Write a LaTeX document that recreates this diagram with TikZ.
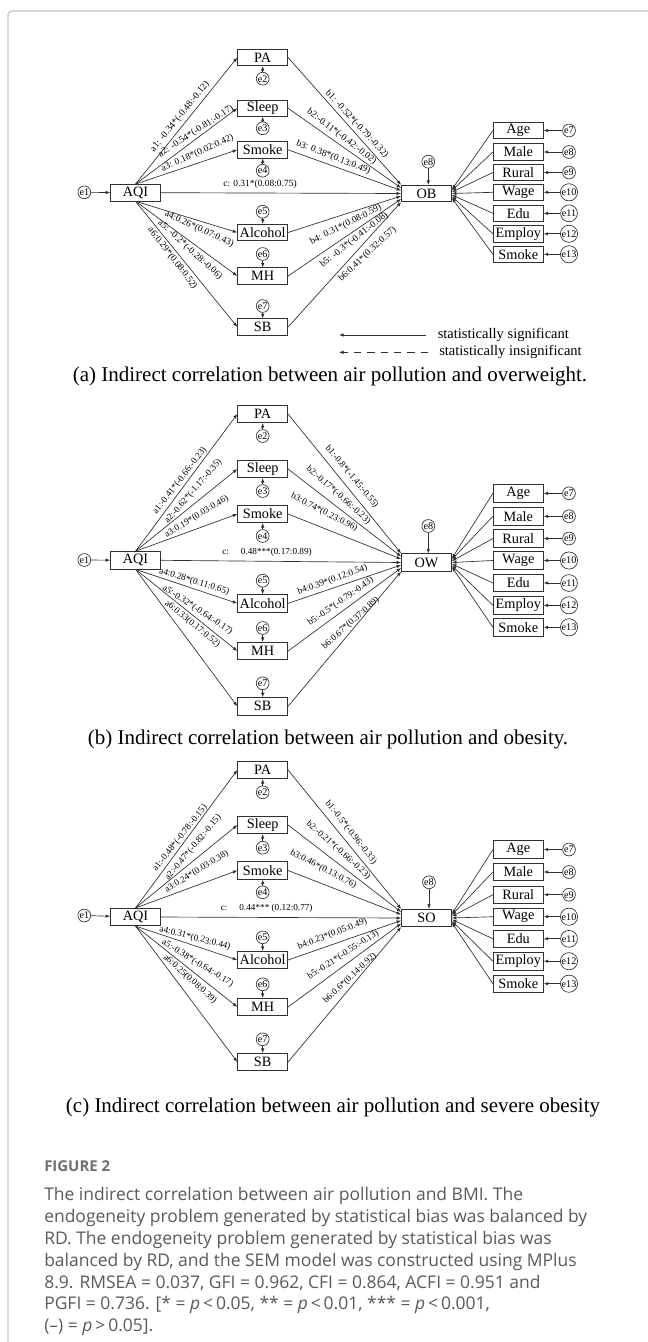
\documentclass[tikz,border=0pt]{standalone}
\usepackage{fontspec}
\setmainfont{Liberation Serif}
\newfontfamily\capsans{Open Sans}
\usetikzlibrary{arrows.meta,calc}
\definecolor{linec}{HTML}{303030}
\definecolor{framec}{HTML}{C4C4C4}
\definecolor{captc}{HTML}{5A5A5A}
\definecolor{figc}{HTML}{707070}
\begin{document}
\begin{tikzpicture}[x=0.75pt,y=-0.75pt,
  >={Latex[length=3.4pt,width=2.6pt]},
  box/.style={draw=linec, line width=0.55pt, minimum width=37.5pt, minimum height=12.3pt, inner sep=0pt, font=\fontsize{10.7pt}{12pt}\selectfont},
  boxb/.style={box, minimum height=13pt},
  err/.style={circle, draw=linec, line width=0.5pt, inner sep=0.3pt, minimum size=9.6pt, font=\fontsize{7.6pt}{8pt}\selectfont},
  link/.style={draw=linec, line width=0.5pt, ->},
  lab/.style={font=\fontsize{7.1pt}{8pt}\selectfont, inner sep=0pt},
  labb/.style={font=\fontsize{6.9pt}{8pt}\selectfont, inner sep=0pt},
  legtext/.style={font=\fontsize{10.9pt}{12pt}\selectfont, inner sep=0pt, anchor=west},
  capt/.style={font=\fontsize{15.75pt}{18pt}\selectfont, inner sep=0pt}]
\useasboundingbox (0,0) rectangle (648,1342);
\fill[white] (0,0) rectangle (648,1342);
\draw[framec, line width=0.9pt, rounded corners=3pt] (8,1345) -- (8,11) -- (652,11);

%================ panel (a) ================
\node[box] (aqiA) at (135.5,192.7) {AQI};
\node[err] (e1A) at (84.3,192.3) {e1};
\node[box] (paA) at (262.7,57.5) {PA};
\node[err] (e2A) at (262.7,78.7) {e2};
\node[box] (slA) at (262.7,108.2) {Sleep};
\node[err] (e3A) at (262.7,128.3) {e3};
\node[box] (smA) at (262.7,149.8) {Smoke};
\node[err] (e4A) at (262.7,170.7) {e4};
\node[box] (alA) at (262.7,232.5) {Alcohol};
\node[err] (e5A) at (262.7,211.7) {e5};
\node[box] (mhA) at (262.7,276) {MH};
\node[err] (e6A) at (262.7,254) {e6};
\node[box] (sbA) at (262.7,327) {SB};
\node[err] (e7A) at (262.7,306) {e7};
\node[box] (obA) at (426.5,193.5) {OB};
\node[err] (e8A) at (428.3,161.7) {e8};
\draw[link] (e1A) -- (aqiA);
\draw[link] (e2A) -- (paA);
\draw[link] (e3A) -- (slA);
\draw[link] (e4A) -- (smA);
\draw[link] (e5A) -- (alA);
\draw[link] (e6A) -- (mhA);
\draw[link] (e7A) -- (sbA);
\draw[link] (e8A) -- (obA.north -| e8A);
\draw[link] (aqiA.north) -- (paA.west);
\draw[link] (aqiA.north) -- (slA.west);
\draw[link] (aqiA.north) -- (smA.west);
\draw[link] (aqiA.south) -- (alA.west);
\draw[link] (aqiA.south) -- (mhA.west);
\draw[link] (aqiA.south) -- (sbA.west);
\draw[link] (aqiA.east) -- (obA.west);
\draw[link] (paA.east) -- (obA.north west);
\draw[link] (slA.east) -- ($(obA.west)+(0,-5.5)$);
\draw[link] (smA.east) -- ($(obA.west)+(0,-3)$);
\draw[link] (alA.east) -- ($(obA.west)+(0,2.5)$);
\draw[link] (mhA.east) -- ($(obA.west)+(0,5.5)$);
\draw[link] (sbA.east) -- (obA.south west);
\node[lab, rotate=51] (la1A) at (180,116.7) {a1: -0.34*(-0.48:-0.12)};
\node[lab, rotate=33] (la2A) at (196,131.5) {a2: -0.54*(-0.81:-0.17)};
\node[lab, rotate=24] (la3A) at (197.5,153.3) {a3: 0.18*(0.02:0.42)};
\node[lab, rotate=-25] (la4A) at (199.2,229.2) {a4:0.26*(0.07:0.43)};
\node[lab, rotate=-42] (la5A) at (190,250) {a5: -0.2*(-0.28:-0.06)};
\node[lab, rotate=-52.5] (la6A) at (172.5,258.3) {a6:0.29*(0.08:0.52)};
\node[lab] (lcA) at (260,184.5) {c: 0.31*(0.08:0.75)};
\node[lab, rotate=-47.3] (lb1A) at (356.7,124.2) {b1: -0.52*(-0.79:-0.32)};
\node[lab, rotate=-37.3] (lb2A) at (341.7,136.7) {b2:-0.11*(-0.42:-0.02)};
\node[lab, rotate=-21.2] (lb3A) at (333.3,157.5) {b3: 0.38*(0.13:0.49)};
\node[lab, rotate=27] (lb4A) at (345.8,225) {b4: 0.31*(0.08:0.59)};
\node[lab, rotate=38] (lb5A) at (354.2,240) {b5: -0.3*(-0.41:-0.08)};
\node[lab, rotate=43.3] (lb6A) at (367.5,254.2) {b6:0.41*(0.32:0.57)};
\foreach \t/\y/\e/\o [count=\i] in {Age/130.5/7/-4,Male/152/8/-3,Rural/172.5/9/-1.5,Wage/192.3/10/0,Edu/213.3/11/1.5,Employ/233.8/12/3,Smoke/254.3/13/4.5}{
  \node[box] (rA\i) at (518.3,\y) {\t};
  \node[err] (reA\i) at (569,\y) {e\e};
  \draw[link] (reA\i) -- (rA\i.east);
  \draw[link] (rA\i.west) -- ($(obA.east)+(0,\o)$);
}
\coordinate (lg1s) at (426,335);
\coordinate (lg1e) at (339,335);
\coordinate (lg2s) at (428,352.3);
\coordinate (lg2e) at (339,352.3);
\draw[link] (lg1s) -- (lg1e);
\draw[link, dash pattern=on 5.5pt off 4.5pt] (lg2s) -- (lg2e);
\node[legtext] (lgt1) at (437.5,335) {statistically significant};
\node[legtext] (lgt2) at (439,352.3) {statistically insignificant};
\node[capt] (capA) at (330,376) {(a) Indirect correlation between air pollution and overweight.};

%================ panel (b) ================
\node[boxb] (aqiB) at (135.5,560.3) {AQI};
\node[err] (e1B) at (84.3,560) {e1};
\node[boxb] (paB) at (262.7,414) {PA};
\node[err] (e2B) at (262.7,436) {e2};
\node[boxb] (slB) at (262.7,469) {Sleep};
\node[err] (e3B) at (262.7,491) {e3};
\node[boxb] (smB) at (262.7,514) {Smoke};
\node[err] (e4B) at (262.7,536) {e4};
\node[boxb] (alB) at (262.7,603.3) {Alcohol};
\node[err] (e5B) at (262.7,580.7) {e5};
\node[boxb] (mhB) at (262.7,651) {MH};
\node[err] (e6B) at (262.7,628) {e6};
\node[boxb] (sbB) at (262.7,706.3) {SB};
\node[err] (e7B) at (262.7,683.3) {e7};
\node[boxb] (owB) at (426.5,562.5) {OW};
\node[err] (e8B) at (428.3,526) {e8};
\draw[link] (e1B) -- (aqiB);
\draw[link] (e2B) -- (paB);
\draw[link] (e3B) -- (slB);
\draw[link] (e4B) -- (smB);
\draw[link] (e5B) -- (alB);
\draw[link] (e6B) -- (mhB);
\draw[link] (e7B) -- (sbB);
\draw[link] (e8B) -- (owB.north -| e8B);
\draw[link] (aqiB.north) -- (paB.west);
\draw[link] (aqiB.north) -- (slB.west);
\draw[link] (aqiB.north) -- (smB.west);
\draw[link] (aqiB.south) -- (alB.west);
\draw[link] (aqiB.south) -- (mhB.west);
\draw[link] (aqiB.south) -- (sbB.west);
\draw[link] (aqiB.east) -- (owB.west);
\draw[link] (paB.east) -- (owB.north west);
\draw[link] (slB.east) -- ($(owB.west)+(0,-6)$);
\draw[link] (smB.east) -- ($(owB.west)+(0,-3.5)$);
\draw[link] (alB.east) -- ($(owB.west)+(0,2.5)$);
\draw[link] (mhB.east) -- ($(owB.west)+(0,5.5)$);
\draw[link] (sbB.east) -- (owB.south west);
\node[labb, rotate=52.4] (la1B) at (180,480.8) {a1:-0.41*(-0.66:-0.23)};
\node[labb, rotate=49.2] (la2B) at (193.3,491.5) {a2:-0.62*(-1.17:-0.35)};
\node[labb, rotate=31.4] (la3B) at (196.7,516.7) {a3:0.19*(0.03:0.46)};
\node[labb] (lcB) at (267,552.2) {c:\hspace{1.3em}0.48***(0.17:0.89)};
\node[labb, rotate=-17.1] (la4B) at (194.2,581.7) {a4:0.28*(0.11:0.65)};
\node[labb, rotate=-33.7] (la5B) at (197.5,610) {a5:-0.32*(-0.64:-0.17)};
\node[labb, rotate=-39.3] (la6B) at (192.5,624.2) {a6:0.33(0.17:0.52)};
\node[labb, rotate=-50.2] (lb1B) at (351.7,476.7) {b1:-0.8*(-1.45:-0.55)};
\node[labb, rotate=-41.7] (lb2B) at (338.3,495) {b2:-0.17*(-0.66:-0.23)};
\node[labb, rotate=-27.1] (lb3B) at (324.2,512.5) {b3:0.74*(0.23:0.96)};
\node[labb, rotate=19.8] (lb4B) at (332.5,580) {b4:0.39*(0.12:0.54)};
\node[labb, rotate=35.1] (lb5B) at (340.8,601.7) {b5:-0.5*(-0.79:-0.43)};
\node[labb, rotate=42.1] (lb6B) at (350.8,623.3) {b6:0.67*(0.37:0.89)};
\foreach \t/\y/\e/\o [count=\i] in {Age/493.3/7/-4,Male/516.3/8/-3,Rural/538.5/9/-1.5,Wage/560.5/10/0,Edu/583/11/1.5,Employ/605.3/12/3,Smoke/627.3/13/4.5}{
  \node[boxb] (rB\i) at (518.3,\y) {\t};
  \node[err] (reB\i) at (569,\y) {e\e};
  \draw[link] (reB\i) -- (rB\i.east);
  \draw[link] (rB\i.west) -- ($(owB.east)+(0,\o)$);
}
\node[capt] (capB) at (328,739.5) {(b) Indirect correlation between air pollution and obesity.};

%================ panel (c) ================
\node[boxb] (aqiC) at (135.5,917) {AQI};
\node[err] (e1C) at (84.3,915.5) {e1};
\node[boxb] (paC) at (262.7,770) {PA};
\node[err] (e2C) at (262.7,792.3) {e2};
\node[boxb] (slC) at (262.7,825) {Sleep};
\node[err] (e3C) at (262.7,847.7) {e3};
\node[boxb] (smC) at (262.7,870.5) {Smoke};
\node[err] (e4C) at (262.7,892.3) {e4};
\node[boxb] (alC) at (262.7,960) {Alcohol};
\node[err] (e5C) at (262.7,937.3) {e5};
\node[boxb] (mhC) at (262.7,1007) {MH};
\node[err] (e6C) at (262.7,984.3) {e6};
\node[boxb] (sbC) at (262.7,1062) {SB};
\node[err] (e7C) at (262.7,1039.3) {e7};
\node[boxb] (soC) at (426.5,918) {SO};
\node[err] (e8C) at (429,882.3) {e8};
\draw[link] (e1C) -- (aqiC);
\draw[link] (e2C) -- (paC);
\draw[link] (e3C) -- (slC);
\draw[link] (e4C) -- (smC);
\draw[link] (e5C) -- (alC);
\draw[link] (e6C) -- (mhC);
\draw[link] (e7C) -- (sbC);
\draw[link] (e8C) -- (soC.north -| e8C);
\draw[link] (aqiC.north) -- (paC.west);
\draw[link] (aqiC.north) -- (slC.west);
\draw[link] (aqiC.north) -- (smC.west);
\draw[link] (aqiC.south) -- (alC.west);
\draw[link] (aqiC.south) -- (mhC.west);
\draw[link] (aqiC.south) -- (sbC.west);
\draw[link] (aqiC.east) -- (soC.west);
\draw[link] (paC.east) -- (soC.north west);
\draw[link] (slC.east) -- ($(soC.west)+(0,-6)$);
\draw[link] (smC.east) -- ($(soC.west)+(0,-3.5)$);
\draw[link] (alC.east) -- ($(soC.west)+(0,2.5)$);
\draw[link] (mhC.east) -- ($(soC.west)+(0,5.5)$);
\draw[link] (sbC.east) -- (soC.south west);
\node[labb, rotate=51.7] (la1C) at (180,838.3) {a1:-0.48*(-0.78:-0.15)};
\node[labb, rotate=49.9] (la2C) at (193.3,847.5) {a2:-0.47*(-0.82:-0.15)};
\node[labb, rotate=31.4] (la3C) at (196.7,871.7) {a3:0.24*(0.03:0.38)};
\node[labb] (lcC) at (266.7,908.5) {c:\hspace{1.3em}0.44*** (0.12:0.77)};
\node[labb, rotate=-14.7] (la4C) at (195,938.3) {a4:0.31*(0.23:0.44)};
\node[labb, rotate=-31.6] (la5C) at (197.5,963.3) {a5:-0.38*(-0.64:-0.17)};
\node[labb, rotate=-42] (la6C) at (190,979.2) {a6:0.25(0.08:0.39)};
\node[labb, rotate=-52] (lb1C) at (350.8,832.5) {b1:-0.5*(-0.96:-0.33)};
\node[labb, rotate=-41.7] (lb2C) at (338.3,850) {b2:-0.21*(-0.66:-0.23)};
\node[labb, rotate=-27.8] (lb3C) at (323.3,869.2) {b3:0.46*(0.13:0.76)};
\node[labb, rotate=21] (lb4C) at (332.5,934.2) {b4:0.23*(0.05:0.49)};
\node[labb, rotate=33] (lb5C) at (343.3,955) {b5:-0.21*(-0.55:-0.13)};
\node[labb, rotate=42.9] (lb6C) at (350,978.3) {b6:0.6*(0.14:0.92)};
\foreach \t/\y/\e/\o [count=\i] in {Age/849.5/7/-4,Male/872/8/-3,Rural/894.7/9/-1.5,Wage/916.7/10/0,Edu/938.8/11/1.5,Employ/961.2/12/3,Smoke/983.7/13/4.5}{
  \node[boxb] (rC\i) at (518.3,\y) {\t};
  \node[err] (reC\i) at (569,\y) {e\e};
  \draw[link] (reC\i) -- (rC\i.east);
  \draw[link] (rC\i.west) -- ($(soC.east)+(0,\o)$);
}
\node[capt] (capC) at (333,1107) {(c) Indirect correlation between air pollution and severe obesity};

%================ figure caption ================
\node[anchor=base west, inner sep=0pt, text=figc, font=\capsans\bfseries\fontsize{11.2pt}{13pt}\selectfont] (figlab) at (44,1171) {FIGURE 2};
\node[anchor=north west, inner sep=0pt, align=left, text=captc, font=\capsans\fontsize{13.1pt}{16.4pt}\selectfont] (figtxt) at (44,1187) {The indirect correlation between air pollution and BMI. The\\
endogeneity problem generated by statistical bias was balanced by\\
RD. The endogeneity problem generated by statistical bias was\\
balanced by RD, and the SEM model was constructed using MPlus\\
8.9. RMSEA = 0.037, GFI = 0.962, CFI = 0.864, ACFI = 0.951 and\\
PGFI = 0.736. [* = \textit{p}\,<\,0.05, ** = \textit{p}\,<\,0.01, *** = \textit{p}\,<\,0.001,\\
(–) = \textit{p}\,>\,0.05].};
\end{tikzpicture}
\end{document}
